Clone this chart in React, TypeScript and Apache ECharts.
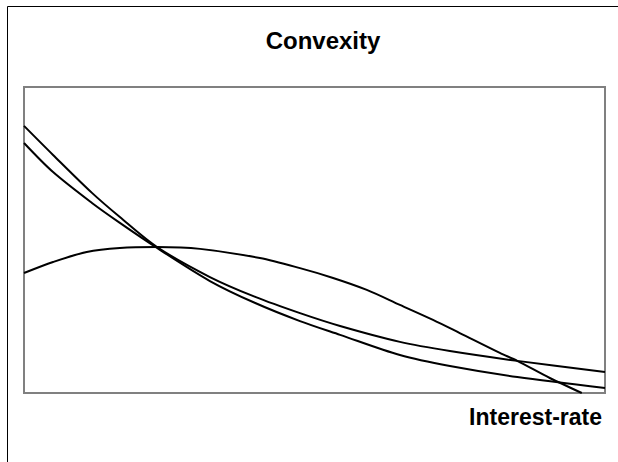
import React, { useEffect, useRef } from "react";
import * as echarts from "echarts";

const titleText = "Convexity";
const xAxisName = "Interest-rate";

// [interest-rate, value] pairs (0..100 scales)
const bondA: [number, number][] = [
  [0, 87.3], [5, 77.8], [11.7, 65.4], [16.5, 57.5], [22.9, 47.7], [32, 37.9],
  [39.8, 31.4], [47.5, 26.1], [54.4, 21.9], [64.7, 16.7], [73.3, 13.7],
  [84.9, 10.5], [100, 6.9],
];
const bondB: [number, number][] = [
  [0, 81.7], [5, 72.2], [11.7, 62.1], [16.5, 55.6], [22.9, 47.4], [32, 36.6],
  [39.8, 29.4], [47.5, 23.5], [54.4, 19.0], [64.7, 12.4], [73.3, 8.8],
  [84.9, 5.2], [100, 1.6],
];
const bondC: [number, number][] = [
  [0, 39.2], [5, 42.8], [10.8, 46.1], [16.5, 47.4], [22.9, 47.7], [30.3, 47.1],
  [40.6, 44.1], [47.5, 40.8], [53.2, 37.6], [59.0, 33.7], [64.7, 28.8],
  [70.4, 23.9], [75.0, 19.6], [81.9, 13.1], [84.9, 10.5], [90.5, 4.9], [96, 0],
];

export default function App() {
  const ref = useRef<HTMLDivElement>(null);
  useEffect(() => {
    if (!ref.current) return;
    document.body.style.margin = "0";
    document.body.style.overflow = "hidden";
    const chart = echarts.init(ref.current, null, { renderer: "svg" });
    const lineStyle = { color: "#000", width: 2 };
    const mk = (name: string, data: [number, number][]) => ({
      name,
      type: "line",
      data,
      smooth: 0.3,
      showSymbol: false,
      symbol: "none",
      lineStyle,
      clip: true,
    });
    chart.setOption({
      animation: false,
      backgroundColor: "#fff",
      title: {
        text: titleText,
        left: 318,
        top: 23,
        textAlign: "center",
        textStyle: {
          fontFamily: "Liberation Sans",
          fontWeight: "bold",
          fontSize: 24,
          color: "#000",
        },
      },
      grid: {
        left: 24,
        top: 87,
        width: 581,
        height: 306,
        show: true,
        borderColor: "#808080",
        borderWidth: 2,
        backgroundColor: "#fff",
      },
      xAxis: {
        type: "value",
        min: 0,
        max: 100,
        axisLine: { show: false },
        axisTick: { show: false },
        axisLabel: { show: false },
        splitLine: { show: false },
      },
      yAxis: {
        type: "value",
        min: 0,
        max: 100,
        axisLine: { show: false },
        axisTick: { show: false },
        axisLabel: { show: false },
        splitLine: { show: false },
      },
      graphic: [
        {
          type: "line",
          shape: { x1: 7.5, y1: 6.5, x2: 618, y2: 6.5 },
          style: { stroke: "#000", lineWidth: 1 },
          silent: true,
        },
        {
          type: "line",
          shape: { x1: 7.5, y1: 6.5, x2: 7.5, y2: 462 },
          style: { stroke: "#000", lineWidth: 1 },
          silent: true,
        },
        {
          type: "text",
          right: 16,
          top: 405,
          style: {
            text: xAxisName,
            fontFamily: "Liberation Sans",
            fontWeight: "bold",
            fontSize: 23,
            fill: "#000",
          },
        },
      ],
      series: [mk("A", bondA), mk("B", bondB), mk("C", bondC)],
    });
    return () => chart.dispose();
  }, []);
  return (
    <div
      ref={ref}
      style={{ position: "fixed", left: 0, top: 0, width: 618, height: 462 }}
    />
  );
}
